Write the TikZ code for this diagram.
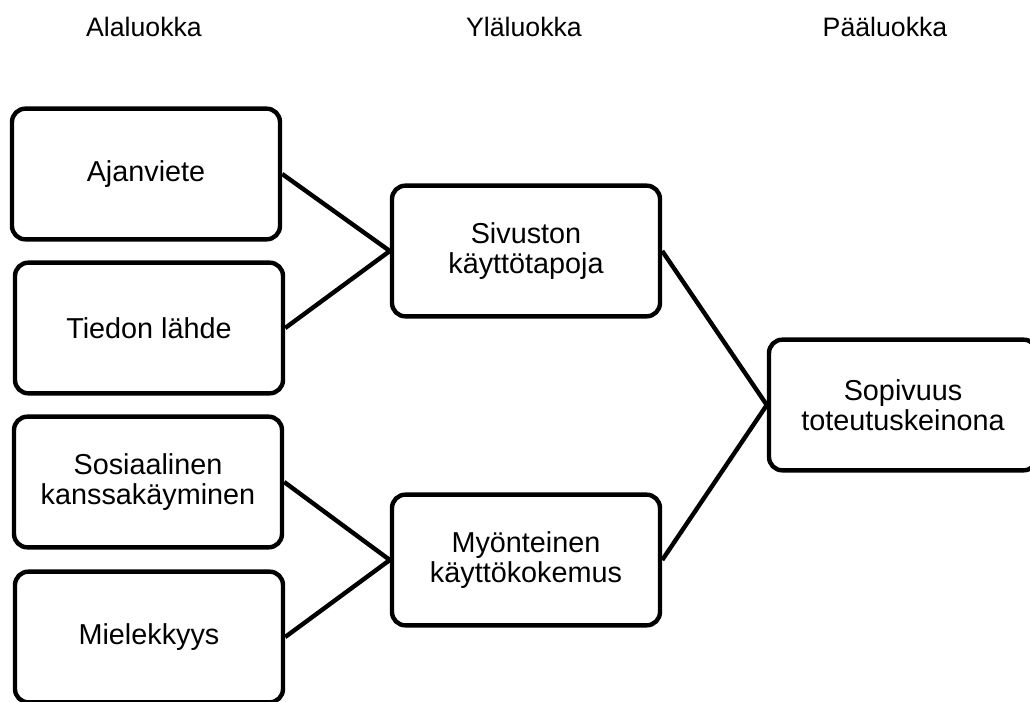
\documentclass[tikz,border=0pt]{standalone}
\usepackage{fontspec}
\setmainfont{Liberation Sans}
\usetikzlibrary{positioning,calc}

\begin{document}
\begin{tikzpicture}[x=0.75pt,y=-0.75pt,
  luokka/.style={draw,line width=3.3pt,rounded corners=10pt,
    minimum width=201pt,minimum height=98pt,inner sep=0pt,align=center,
    font=\fontsize{21.6}{22.2}\selectfont},
  otsikko/.style={font=\fontsize{20}{24}\selectfont},
  yhteys/.style={line width=3.3pt}]
  \useasboundingbox (0,0) rectangle (1030,702);

  % otsikot
  \node[otsikko] (ala) at (144,27) {Alaluokka};
  \node[otsikko] (yla) at (524,27) {Yläluokka};
  \node[otsikko] (paa) at (885,27) {Pääluokka};

  % alaluokat
  \node[luokka] (aja) at (146,174) {Ajanviete};
  \node[luokka] (tie) at (149,328) {Tiedon lähde};
  \node[luokka] (sos) at (148,482) {Sosiaalinen\\kanssakäyminen};
  \node[luokka] (mie) at (149,637) {Mielekkyys};

  % yläluokat
  \node[luokka] (siv) at (526,251) {Sivuston\\käyttötapoja};
  \node[luokka] (myo) at (526,560) {Myönteinen\\käyttökokemus};

  % pääluokka
  \node[luokka] (sop) at (903,405) {Sopivuus\\toteutuskeinona};

  \draw[yhteys] (aja.east) -- (siv.west);
  \draw[yhteys] (tie.east) -- (siv.west);
  \draw[yhteys] (sos.east) -- (myo.west);
  \draw[yhteys] (mie.east) -- (myo.west);
  \draw[yhteys] (siv.east) -- (sop.west);
  \draw[yhteys] (myo.east) -- (sop.west);
\end{tikzpicture}
\end{document}
